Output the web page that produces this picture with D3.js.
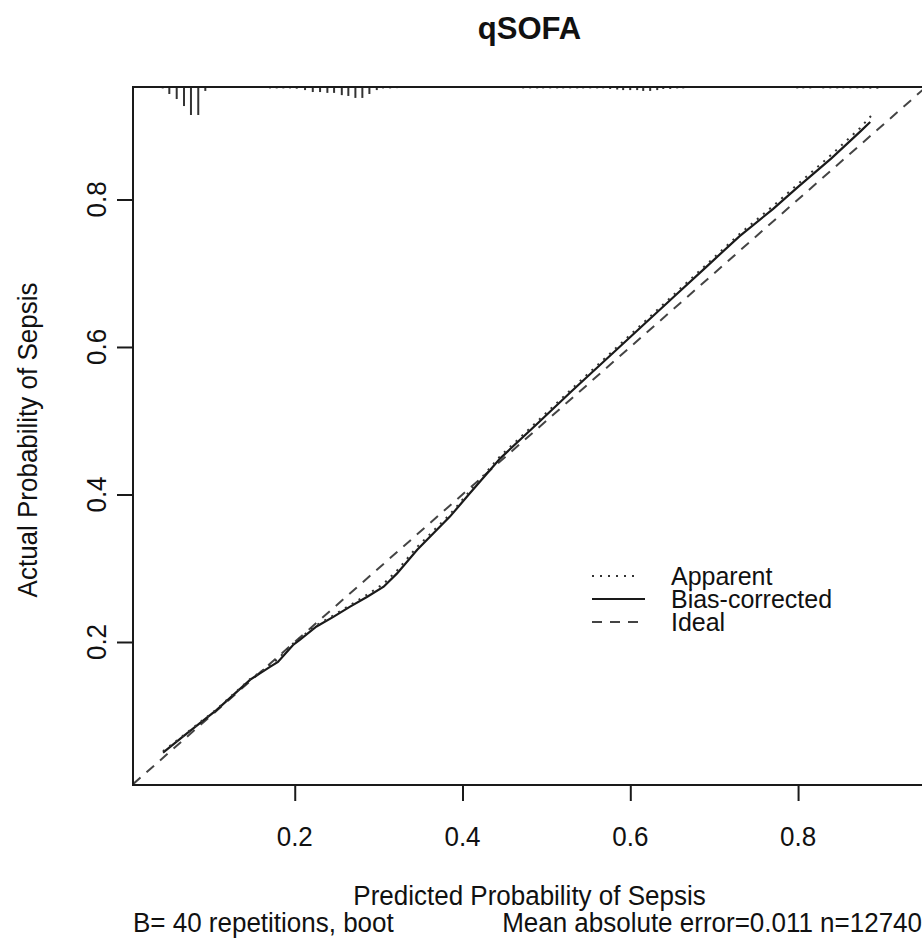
<!DOCTYPE html>
<html>
<head>
<meta charset="utf-8">
<script src="https://cdn.jsdelivr.net/npm/d3@7"></script>
<style>
  html, body { margin: 0; padding: 0; background: #fff; }
  svg { display: block; }
  text { font-family: "Liberation Sans", Arial, Helvetica, sans-serif; fill: #111; }
</style>
</head>
<body>
<script>
// ---------- data ----------
const title = "qSOFA";
const xLabel = "Predicted Probability of Sepsis";
const yLabel = "Actual Probability of Sepsis";
const subLeft = "B= 40 repetitions, boot";
const subRight = "Mean absolute error=0.011 n=12740";
const xTicks = [0.2, 0.4, 0.6, 0.8];
const yTicks = [0.2, 0.4, 0.6, 0.8];
const legendLabels = ["Apparent", "Bias-corrected", "Ideal"];

// Apparent calibration curve (predicted, actual)
const apparentX = [0.043, 0.067, 0.107, 0.147, 0.170, 0.180, 0.198, 0.206, 0.226, 0.246, 0.266, 0.286, 0.306, 0.322, 0.346, 0.385, 0.409, 0.445, 0.490, 0.530, 0.570, 0.610, 0.650, 0.690, 0.730, 0.770, 0.800, 0.840, 0.874, 0.890];
const apparentY = [0.052, 0.073, 0.109, 0.150, 0.168, 0.177, 0.198, 0.205, 0.223, 0.236, 0.250, 0.264, 0.279, 0.297, 0.329, 0.373, 0.405, 0.452, 0.500, 0.543, 0.585, 0.627, 0.669, 0.711, 0.753, 0.791, 0.821, 0.861, 0.897, 0.917];

// Bias-corrected calibration curve
const biasX = [0.043, 0.067, 0.107, 0.147, 0.170, 0.180, 0.198, 0.206, 0.226, 0.246, 0.266, 0.286, 0.306, 0.322, 0.346, 0.385, 0.409, 0.445, 0.490, 0.530, 0.570, 0.610, 0.650, 0.690, 0.730, 0.770, 0.800, 0.840, 0.874, 0.886];
const biasY = [0.050, 0.072, 0.108, 0.149, 0.166, 0.173, 0.196, 0.203, 0.221, 0.234, 0.248, 0.261, 0.275, 0.293, 0.325, 0.370, 0.402, 0.449, 0.497, 0.540, 0.582, 0.624, 0.666, 0.708, 0.750, 0.787, 0.817, 0.856, 0.892, 0.905];

// Ideal line (y = x)
const idealX = [0.0072, 1];
const idealY = [0.0072, 1];

// Rug of predicted values along the top (relative frequency)
const rugX = [0.0426, 0.0505, 0.0593, 0.0680, 0.0763, 0.0850, 0.0934,
  0.1705, 0.1785, 0.1864, 0.1944, 0.2024, 0.2123, 0.2215, 0.2302, 0.2389, 0.2469, 0.2561, 0.2639, 0.2723, 0.2806, 0.2890, 0.2978, 0.3053, 0.3137, 0.3221,
  0.4723, 0.4806, 0.4890, 0.4961, 0.5045, 0.5128, 0.5200, 0.5283, 0.5367, 0.5438, 0.5522, 0.5605, 0.5677, 0.5760, 0.5844, 0.5915, 0.5999, 0.6082, 0.6154, 0.6237, 0.6321, 0.6393, 0.6476, 0.6559, 0.6631,
  0.7990, 0.8062, 0.8145, 0.8300, 0.8384, 0.8467, 0.8539, 0.8623, 0.8706, 0.8778, 0.8861, 0.8945];
const rugFreq = [5, 25, 43, 68, 100, 100, 14,
  5, 5, 5, 5, 6, 11, 18, 18, 21, 21, 29, 32, 39, 39, 25, 11, 5, 5, 4,
  5, 5, 5, 5, 5, 5, 5, 5, 5, 5, 5, 5, 5, 7, 9, 11, 11, 11, 14, 14, 11, 7, 7, 5, 5,
  5, 5, 5, 5, 5, 5, 5, 5, 5, 5, 6, 6];

// ---------- layout ----------
const W = 922, H = 950;
const box = { left: 133, right: 926, top: 87, bottom: 785 };
const xlim = [0.0072, 0.9525];
const ylim = [0.0061, 0.9525];
const ink = "#1a1a1a";
const stretch = 1.07; // glyphs in the reference are slightly taller than wide

const svg = d3.select("body").append("svg").attr("width", W).attr("height", H);
svg.append("rect").attr("width", W).attr("height", H).attr("fill", "#fff");

const x = d3.scaleLinear().domain(xlim).range([box.left, box.right]);
const y = d3.scaleLinear().domain(ylim).range([box.bottom, box.top]);
const rugLen = d3.scaleLinear().domain([0, 100]).range([0, 28]);

function label(parent, tx, ty, str, opts = {}) {
  const rot = opts.rotate ? ` rotate(${opts.rotate})` : "";
  const s = opts.stretch == null ? stretch : opts.stretch;
  return parent.append("text")
    .attr("transform", `translate(${tx},${ty})${rot} scale(1,${s})`)
    .attr("text-anchor", opts.anchor || "middle")
    .attr("font-size", opts.size || 26)
    .attr("font-weight", opts.weight || "normal")
    .text(str);
}

svg.append("clipPath").attr("id", "plotclip")
  .append("rect").attr("x", box.left).attr("y", box.top)
  .attr("width", box.right - box.left).attr("height", box.bottom - box.top);

const plot = svg.append("g").attr("clip-path", "url(#plotclip)");
const line = d3.line().x(d => x(d[0])).y(d => y(d[1]));

// ideal
plot.append("path")
  .datum(idealX.map((v, i) => [v, idealY[i]]))
  .attr("d", line).attr("fill", "none")
  .attr("stroke", "#444").attr("stroke-width", 2)
  .attr("stroke-dasharray", "10,8");

// bias-corrected
plot.append("path")
  .datum(biasX.map((v, i) => [v, biasY[i]]))
  .attr("d", line).attr("fill", "none")
  .attr("stroke", ink).attr("stroke-width", 2.2);

// apparent
plot.append("path")
  .datum(apparentX.map((v, i) => [v, apparentY[i]]))
  .attr("d", line).attr("fill", "none")
  .attr("stroke", "#333").attr("stroke-width", 2)
  .attr("stroke-dasharray", "2,6");

// rug
plot.selectAll("line.rug")
  .data(rugX.map((v, i) => [v, rugFreq[i]]))
  .join("line").attr("class", "rug")
  .attr("x1", d => x(d[0])).attr("x2", d => x(d[0]))
  .attr("y1", box.top).attr("y2", d => box.top + rugLen(d[1]))
  .attr("stroke", "#333").attr("stroke-width", 2);

// box
svg.append("rect")
  .attr("x", box.left).attr("y", box.top)
  .attr("width", box.right - box.left).attr("height", box.bottom - box.top)
  .attr("fill", "none").attr("stroke", ink).attr("stroke-width", 2);

// x axis
const xAxis = svg.append("g").attr("transform", `translate(0,${box.bottom})`)
  .call(d3.axisBottom(x).tickValues(xTicks).tickSize(16).tickFormat(""));
xAxis.select(".domain").attr("d", `M${x(xTicks[0])},0H${x(xTicks[xTicks.length - 1])}`)
  .attr("stroke", ink).attr("stroke-width", 2);
xAxis.selectAll(".tick line").attr("stroke", ink).attr("stroke-width", 2);
const xLabs = svg.append("g");
xTicks.forEach(t => label(xLabs, x(t), 846, d3.format(".1f")(t)));

// y axis
const yAxis = svg.append("g").attr("transform", `translate(${box.left},0)`)
  .call(d3.axisLeft(y).tickValues(yTicks).tickSize(16).tickFormat(""));
yAxis.select(".domain").attr("d", `M0,${y(yTicks[0])}V${y(yTicks[yTicks.length - 1])}`)
  .attr("stroke", ink).attr("stroke-width", 2);
yAxis.selectAll(".tick line").attr("stroke", ink).attr("stroke-width", 2);
const yLabs = svg.append("g");
yTicks.forEach(t => label(yLabs, 106, y(t), d3.format(".1f")(t), { rotate: -90 }));

// titles
label(svg, (box.left + box.right) / 2, 39, title, { size: 31, weight: "bold", stretch: 1 });
label(svg, (box.left + box.right) / 2, 905, xLabel);
label(svg, 37, (box.top + box.bottom) / 2 + 4, yLabel, { rotate: -90 });
label(svg, box.left, 932, subLeft, { anchor: "start" });
label(svg, box.right - 4, 932, subRight, { anchor: "end" });

// legend
const legend = svg.append("g").attr("transform", "translate(592,576)");
const legendStyles = [
  { dash: "2,6", width: 2, color: "#333", len: 48 },
  { dash: null, width: 2.2, color: ink, len: 53 },
  { dash: "10,8", width: 2, color: "#444", len: 48 }
];
const rows = legend.selectAll("g").data(legendLabels).join("g")
  .attr("transform", (d, i) => `translate(0,${i * 23})`);
rows.append("line").attr("x1", 0).attr("x2", (d, i) => legendStyles[i].len)
  .attr("y1", 0).attr("y2", 0)
  .attr("stroke", (d, i) => legendStyles[i].color)
  .attr("stroke-width", (d, i) => legendStyles[i].width)
  .attr("stroke-dasharray", (d, i) => legendStyles[i].dash);
rows.each(function (d) { label(d3.select(this), 79, 9, d, { anchor: "start", size: 25, stretch: 1.03 }); });
</script>
</body>
</html>
